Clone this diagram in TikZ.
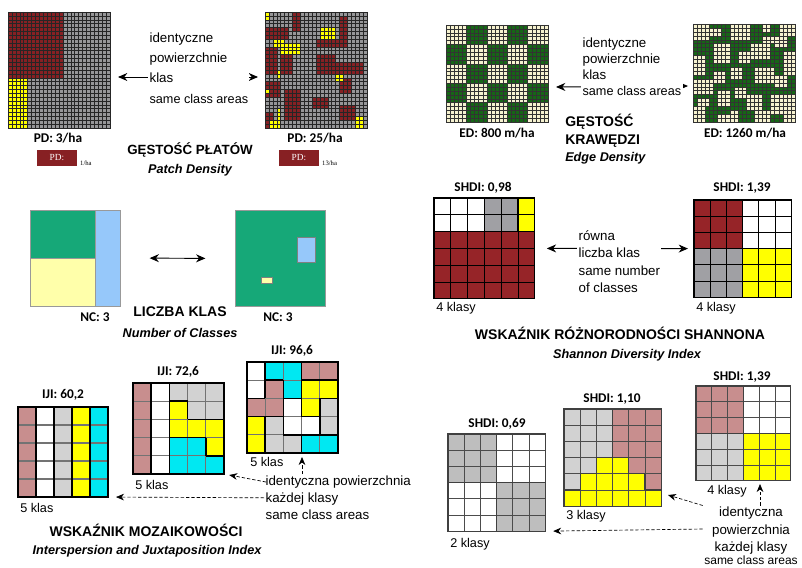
\documentclass[tikz,border=0pt]{standalone}
\usepackage{fontspec}
\setmainfont{Liberation Sans}
\newfontfamily\calibri{Carlito}
\newfontfamily\timesfont{Liberation Serif}
\usepackage{xcolor}
\definecolor{pdred}{RGB}{135,32,35}
\definecolor{pdgray}{RGB}{150,150,152}
\definecolor{pdyel}{RGB}{255,255,0}
\definecolor{edgreen}{RGB}{22,102,22}
\definecolor{edcream}{RGB}{246,242,208}
\definecolor{ncgreen}{RGB}{22,168,120}
\definecolor{ncyel}{RGB}{255,255,170}
\definecolor{ncblue}{RGB}{150,200,250}
\definecolor{col1}{RGB}{150,36,40}
\definecolor{col2}{RGB}{255,255,255}
\definecolor{col3}{RGB}{160,160,164}
\definecolor{col4}{RGB}{255,255,0}
\definecolor{col5}{RGB}{0,232,242}
\definecolor{col6}{RGB}{200,142,142}
\definecolor{col7}{RGB}{210,210,210}
\definecolor{col8}{RGB}{190,190,190}
\usetikzlibrary{arrows.meta, positioning, calc}

% grid of coloured cells, thick lines between different colours
\newcommand{\cellgrid}[6][]{%
  \begin{scope}[shift={#3}, x=#4, y=-#4, #1]
    \foreach \kol [count=\k from 0] in {#6} {
      \pgfmathtruncatemacro\cx{mod(\k,#5)}
      \pgfmathtruncatemacro\cy{div(\k,#5)}
      \fill[col\kol] (\cx,\cy) rectangle ++(1,1);
    }
    \foreach \i in {0,...,#5} {
      \draw[cellline] (\i,0) -- (\i,#5);
      \draw[cellline] (0,\i) -- (#5,\i);
    }
    \foreach \kol [count=\k from 0] in {#6} {
      \pgfmathtruncatemacro\cx{mod(\k,#5)}
      \pgfmathtruncatemacro\cy{div(\k,#5)}
      \ifnum\cx<\numexpr#5-1\relax
        \pgfmathtruncatemacro\nb{{#6}[\k+1]}
        \ifnum\nb=\kol\else\draw[edgeline] (\cx+1,\cy) -- ++(0,1);\fi
      \fi
      \ifnum\cy<\numexpr#5-1\relax
        \pgfmathtruncatemacro\nb{{#6}[\k+#5]}
        \ifnum\nb=\kol\else\draw[edgeline] (\cx,\cy+1) -- ++(1,0);\fi
      \fi
    }
    \draw[edgeline] (0,0) rectangle (#5,#5);
    \coordinate (#2-n) at (#5/2,0);
    \coordinate (#2-s) at (#5/2,#5);
    \coordinate (#2-w) at (0,#5/2);
    \coordinate (#2-e) at (#5,#5/2);
    \coordinate (#2-se) at (#5,#5);
  \end{scope}}

% thin lines of a fine raster
\newcommand{\finegrid}[3]{%
  \foreach \i in {0,...,#1} \draw[#3] (\i,0) -- (\i,#2);
  \foreach \j in {0,...,#2} \draw[#3] (0,\j) -- (#1,\j);
  \draw[#3] (0,0) rectangle (#1,#2);}

\begin{document}
\begin{tikzpicture}[x=0.75pt, y=-0.75pt,
  val/.style={font=\calibri\bfseries\fontsize{10}{12}\selectfont, inner sep=0pt},
  ttl/.style={font=\bfseries\fontsize{10.5}{12}\selectfont, inner sep=0pt},
  sub/.style={font=\bfseries\itshape\fontsize{9.5}{11}\selectfont, inner sep=0pt},
  note/.style={font=\fontsize{10}{13}\selectfont, align=left, fill=white, inner sep=1pt},
  klas/.style={font=\fontsize{9.5}{11}\selectfont, anchor=west, inner sep=0pt},
  cellline/.style={black, line width=0.7pt},
  edgeline/.style={black, line width=0.9pt},
  pdline/.style={black!85, line width=0.3pt},
  edline/.style={black!80, line width=0.25pt},
  dbl/.style={<->, >={Stealth[length=7pt,width=6pt]}, line width=0.7pt},
  dsh/.style={->, >={Stealth[length=6pt,width=5pt]}, dash pattern=on 2.5pt off 1.5pt, line width=0.5pt},
  ncsq/.style={draw=black!40, minimum width=67.5pt, minimum height=72pt, inner sep=0pt},
  pdkey/.style={fill=pdred, text=white, font=\timesfont\fontsize{7}{8}\selectfont, minimum width=30pt, minimum height=12pt, inner sep=0pt},
  pdkeyv/.style={font=\timesfont\fontsize{5}{6}\selectfont, anchor=south west, inner sep=0pt, xshift=2pt}
]
\fill[white] (0,0) rectangle (802,567);
\useasboundingbox (0,0) rectangle (802,567);

% Patch density
\begin{scope}[shift={(8,12)}, x=2.942pt, y=-2.9pt]
  \fill[pdgray] (0,0) rectangle (26,30);
  \fill[pdred] (0,0) rectangle (14,17);
  \fill[pdyel] (0,17) rectangle (5,30);
  \finegrid{26}{30}{pdline}
\end{scope}
\begin{scope}[shift={(265,12)}, x=2.942pt, y=-2.9pt]
  \fill[pdgray] (0,0) rectangle (26,30);
  \foreach \xa/\ya/\xb/\yb in {7/0/9/5, 19/1/21/9, 0/4/6/7, 13/7/19/9, 0/9/3/16, 4/11/7/16, 13/11/18/16, 18/13/25/16, 19/17/22/21, 0/18/4/22, 5/20/9/28, 12/22/16/25, 19/24/23/28, 0/26/2/30}
    \fill[pdred] (\xa,\ya) rectangle (\xb,\yb);
  \foreach \xa/\ya/\xb/\yb in {0/0/1/2, 14/4/18/7, 2/7/5/9, 4/8/9/11, 18/16/20/18, 3/15/4/17, 0/20/1/21, 3/25/4/30, 1/28/3/30, 23/27/25/30}
    \fill[pdyel] (\xa,\ya) rectangle (\xb,\yb);
  \finegrid{26}{30}{pdline}
\end{scope}
\coordinate (pdA-e) at (118,77);
\coordinate (pdB-w) at (258,77);
\draw[dbl] (pdA-e) -- (pdB-w);
\node[note, anchor=north west, font=\fontsize{10}{15}\selectfont] (pdtxt) at (148,31) {identyczne\\powierzchnie\\klas\\[1pt]{\fontsize{9.5}{11}\selectfont same class areas}};
\node[val] (pdAval) at (58,138) {PD: 3/ha};
\node[val] (pdBval) at (315,138) {PD: 25/ha};
\node[pdkey] (pdkeyA) at (57,158) {PD:};
\node[pdkeyv] (pdkeyAv) at (pdkeyA.south east) {1/ha};
\node[pdkey] (pdkeyB) at (299,158) {PD:};
\node[pdkeyv] (pdkeyBv) at (pdkeyB.south east) {13/ha};
\node[ttl, font=\bfseries\fontsize{10}{12}\selectfont] (pdttl) at (190,150) {GĘSTOŚĆ PŁATÓW};
\node[sub] (pdsub) at (190,170) {Patch Density};

% Edge density
\begin{scope}[shift={(446,25)}, x=3.06pt, y=-2.91pt]
  \fill[edcream] (0,0) rectangle (25,25);
  \foreach \i in {0,...,4} \foreach \j in {0,...,4} {
    \pgfmathtruncatemacro\odd{mod(\i+\j,2)}
    \ifnum\odd=1 \fill[edgreen] (5*\i,5*\j) rectangle ++(5,5); \fi
  }
  \finegrid{25}{25}{edline}
\end{scope}
\begin{scope}[shift={(693,24)}, x=3.06pt, y=-2.94pt]
  \fill[edgreen] (0,0) rectangle (25,25);
  \foreach \xa/\ya/\xb/\yb in {0/0/4/4, 9/0/14/4, 17/0/19/2, 21/0/25/3, 5/5/9/10, 14/5/19/9, 0/8/3/13, 22/7/25/13, 9/11/12/14, 15/11/20/15, 0/14/5/18, 6/17/9/21, 13/18/17/22, 19/18/25/23, 0/21/3/25, 9/22/11/25, 11/7/14/10, 20/3/23/6, 4/1/7/3, 17/3/20/5, 5/12/8/15, 10/16/13/19, 1/19/4/21, 20/13/23/16, 15/22/19/25, 22/23/25/25, 6/23/9/25}
    \fill[edcream] (\xa,\ya) rectangle (\xb,\yb);
  \finegrid{25}{25}{edline}
\end{scope}
\coordinate (edA-e) at (556,87);
\coordinate (edB-w) at (688,86);
\draw[dbl] (edA-e) -- (edB-w);
\node[note, anchor=north west, font=\fontsize{10}{12}\selectfont] (edtxt) at (581,36) {identyczne\\powierzchnie\\klas\\{\fontsize{9.5}{11}\selectfont same class areas}};
\node[val] (edAval) at (497,133) {ED: 800 m/ha};
\node[val] (edBval) at (745,133) {ED: 1260 m/ha};
\node[ttl, anchor=west, align=left, font=\bfseries\fontsize{10.5}{13.5}\selectfont] (edttl) at (565,131) {GĘSTOŚĆ\\KRAWĘDZI};
\node[sub, anchor=west] (edsub) at (565,158) {Edge Density};

% Number of classes
\fill[ncgreen] (30,210) rectangle (95,258);
\fill[ncyel] (30,258) rectangle (95,306);
\fill[ncblue] (95,210) rectangle (120,306);
\draw[black!40] (95,210) -- (95,306) (30,258) -- (95,258);
\node[ncsq] (ncA) at (75,258) {};
\fill[ncgreen] (235,211) rectangle (325,306);
\filldraw[fill=ncblue, draw=black!50] (297,237) rectangle (315,262);
\filldraw[fill=ncyel, draw=black!50] (261,277) rectangle (272,283);
\node[ncsq] (ncB) at (280,258.5) {};
\draw[dbl, shorten <=22pt, shorten >=22pt] (ncA.east) -- (ncB.west);
\node[val] (ncAval) at (95,317) {NC: 3};
\node[val] (ncBval) at (278,317) {NC: 3};
\node[ttl] (ncttl) at (180,312) {LICZBA KLAS};
\node[sub] (ncsub) at (180,333) {Number of Classes};

% Shannon diversity
\cellgrid{shdiA}{(434,198)}{12.6pt}{6}{2,2,2,3,3,4,2,2,2,3,3,4,1,1,1,1,1,1,1,1,1,1,1,1,1,1,1,1,1,1,1,1,1,1,1,1}
\cellgrid{shdiB}{(694,200)}{12.15pt}{6}{1,1,1,2,2,2,1,1,1,2,2,2,1,1,1,2,2,2,3,3,3,4,4,4,3,3,3,4,4,4,3,3,3,4,4,4}
\draw[dbl, shorten <=9pt, shorten >=4.5pt] (shdiA-e) -- (shdiB-w);
\node[note, anchor=north west] (shtxt) at (577,229) {równa\\liczba klas\\same number\\of classes};
\node[val] (shdiAval) at (483,188) {SHDI: 0,98};
\node[val] (shdiBval) at (742,188) {SHDI: 1,39};
\node[klas] (shdiAk) at (436,308) {4 klasy};
\node[klas] (shdiBk) at (696,308) {4 klasy};
\node[ttl] (shttl) at (620,333) {WSKAŹNIK RÓŻNORODNOŚCI SHANNONA};
\node[sub] (shsub) at (627,355) {Shannon Diversity Index};

% Interspersion
\cellgrid[cellline/.style={black!55, line width=1pt}, edgeline/.style={black, line width=1.3pt}]{ijiA}{(18,407)}{13.5pt}{5}{6,2,7,4,5,6,2,7,4,5,6,2,7,4,5,6,2,7,4,5,6,2,7,4,5}
\cellgrid[cellline/.style={black!55, line width=1pt}, edgeline/.style={black, line width=1.3pt}]{ijiB}{(133,383)}{13.65pt}{5}{6,2,7,7,7,6,2,4,7,7,6,2,4,4,4,6,2,5,5,4,6,2,5,5,5}
\cellgrid[cellline/.style={black!55, line width=1pt}, edgeline/.style={black, line width=1.3pt}]{ijiC}{(247,362)}{13.65pt}{5}{2,5,5,6,6,2,6,5,4,4,6,6,2,4,7,4,7,2,2,7,4,7,7,5,5}
\node[val] (ijiAval) at (63,395) {IJI: 60,2};
\node[val] (ijiBval) at (178,372) {IJI: 72,6};
\node[val] (ijiCval) at (292,351) {IJI: 96,6};
\node[klas] (ijiAk) at (20,508) {5 klas};
\node[klas] (ijiBk) at (135,485) {5 klas};
\node[klas] (ijiCk) at (250,462) {5 klas};
\node[note, anchor=north west] (ijitxt) at (264,474) {identyczna powierzchnia\\każdej klasy\\same class areas};
\coordinate (ijiC-tip) at (302,457);
\draw[dsh, shorten >=4pt] ($(ijitxt.north west)+(2,8)$) -- (ijiB-se);
\draw[dsh, shorten >=6pt] (ijitxt.west) -- (ijiA-se);
\draw[dsh] (ijiC-tip |- ijitxt.north) -- (ijiC-tip);
\node[ttl] (ijittl) at (146,530) {WSKAŹNIK MOZAIKOWOŚCI};
\node[sub] (ijisub) at (147,551) {Interspersion and Juxtaposition Index};

% Shannon, equal areas
\cellgrid[cellline/.style={black!70, line width=0.7pt}, edgeline/.style={black!75, line width=0.9pt}]{shdiC}{(448,434)}{12.15pt}{6}{8,8,8,2,2,2,8,8,8,2,2,2,8,8,8,2,2,2,2,2,2,8,8,8,2,2,2,8,8,8,2,2,2,8,8,8}
\cellgrid[cellline/.style={black!70, line width=0.7pt}, edgeline/.style={black!75, line width=0.9pt}]{shdiD}{(564,409)}{12.15pt}{6}{7,7,7,6,6,6,7,7,7,6,6,6,7,7,7,6,6,6,7,7,4,4,6,6,7,4,4,4,4,6,4,4,4,4,4,4}
\cellgrid[cellline/.style={black!70, line width=0.7pt}, edgeline/.style={black!75, line width=0.9pt}]{shdiE}{(696,386)}{11.85pt}{6}{6,6,6,2,2,2,6,6,6,2,2,2,6,6,6,2,2,2,7,7,7,4,4,4,7,7,7,4,4,4,7,7,7,4,4,4}
\node[val] (shdiCval) at (497,424) {SHDI: 0,69};
\node[val] (shdiDval) at (612,399) {SHDI: 1,10};
\node[val] (shdiEval) at (742,377) {SHDI: 1,39};
\node[klas] (shdiCk) at (450,544) {2 klasy};
\node[klas] (shdiDk) at (566,516) {3 klasy};
\node[klas] (shdiEk) at (707,491) {4 klasy};
\node[note, align=center] (shdtxt) at (751,536) {identyczna\\powierzchnia\\każdej klasy\\[-3pt]{\fontsize{9}{10}\selectfont same class areas}};
\coordinate (shdiD-tip) at (668,495);
\coordinate (shdiE-tip) at (760,484);
\draw[dsh, shorten >=6pt] ($(shdtxt.west)+(0,-7)$) -- (shdiC-se);
\draw[dsh] (shdtxt.north west) -- (shdiD-tip);
\draw[dsh] (shdiE-tip |- shdtxt.north) -- (shdiE-tip);
\end{tikzpicture}
\end{document}
